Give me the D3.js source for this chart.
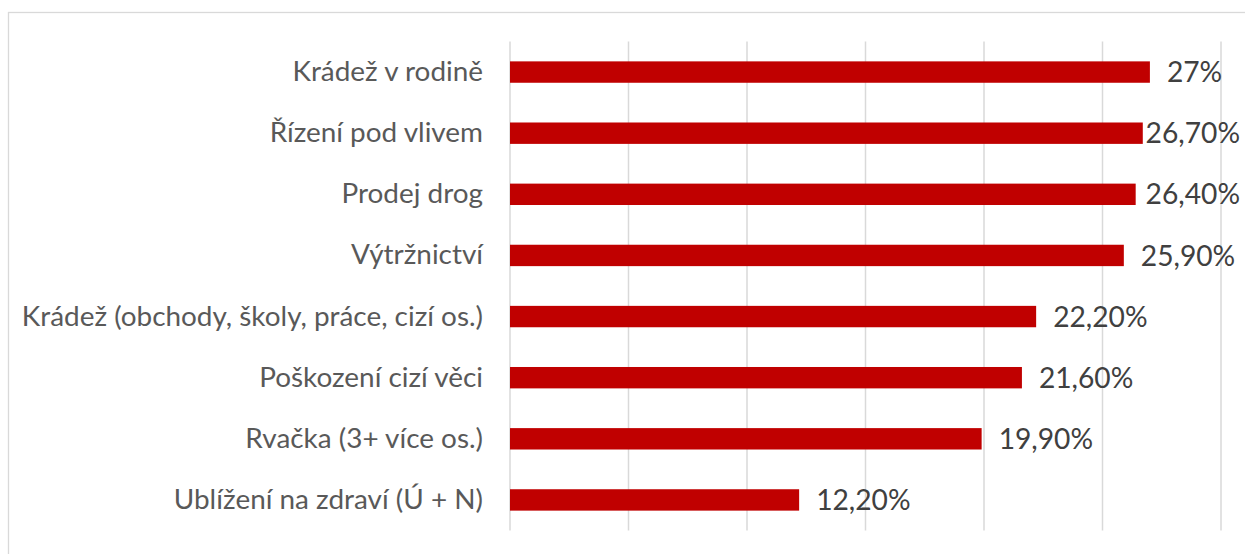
<!DOCTYPE html>
<head>
  <title>Bar Chart</title>
  <meta charset="utf-8">
  <script type="text/javascript" src="https://cdn.jsdelivr.net/npm/d3@7/dist/d3.min.js"></script>
  <style>
body{margin:0; background:#fff;}
svg text{font-family: Lato, "Open Sans", sans-serif;}
  </style>
</head>
<body>
</body>
<script>

var categories = ["Krádež v rodině", "Řízení pod vlivem", "Prodej drog", "Výtržnictví",
  "Krádež (obchody, školy, práce, cizí os.)", "Poškození cizí věci", "Rvačka (3+ více os.)", "Ublížení na zdraví (Ú + N)"]
var values = [27, 26.7, 26.4, 25.9, 22.2, 21.6, 19.9, 12.2]
var valueLabels = ["27%", "26,70%", "26,40%", "25,90%", "22,20%", "21,60%", "19,90%", "12,20%"]
var xTicks = [0, 5, 10, 15, 20, 25, 30]

var W = 1245, H = 554
var plot = {left: 510, right: 1221, top: 41.5, bottom: 530.5}

var svg = d3.select("body").append("svg").attr("width", W).attr("height", H)

// chart frame (only left and top edges show in the picture)
svg.append("rect").attr("x", 8.5).attr("y", 12.5).attr("width", W + 20).attr("height", H + 20)
  .attr("fill", "#fff").attr("stroke", "#d9d9d9").attr("stroke-width", 1.3)

var xScale = d3.scaleLinear().domain([0, 30]).range([plot.left, plot.right])
var yScale = d3.scaleBand().domain(categories).range([plot.top, plot.bottom])
  .paddingInner(0.65).paddingOuter(0.325)

var grid = svg.append("g").attr("id", "grid")
grid.selectAll("line").data(xTicks).enter().append("line")
  .attr("x1", d => xScale(d)).attr("x2", d => xScale(d))
  .attr("y1", plot.top).attr("y2", plot.bottom)
  .attr("stroke", "#d9d9d9").attr("stroke-width", 1.5)

var bars = svg.append("g").attr("id", "bars")
bars.selectAll("rect").data(values).enter().append("rect")
  .attr("x", xScale(0))
  .attr("y", (d, i) => yScale(categories[i]))
  .attr("width", d => xScale(d) - xScale(0))
  .attr("height", yScale.bandwidth())
  .attr("fill", "#c00000")

var yAxis = d3.axisLeft(yScale).tickSize(0).tickPadding(27)
var yaxis_area = svg.append("g").attr("transform", "translate(" + plot.left + ",0)").call(yAxis)
yaxis_area.select(".domain").remove()
yaxis_area.selectAll("text").attr("font-size", "27.9px").attr("fill", "#595959")
  .attr("font-family", "Lato, 'Open Sans', sans-serif")

var labels = svg.append("g").attr("id", "labels")
labels.selectAll("text").data(values).enter().append("text")
  .attr("y", (d, i) => yScale(categories[i]) + yScale.bandwidth() / 2)
  .attr("dy", ".36em")
  .attr("font-size", "28.2px").attr("fill", "#404040")
  .text((d, i) => valueLabels[i])
  .attr("x", function(d) {
    var w = this.getComputedTextLength()
    return Math.min(xScale(d) + 17, 1240 - w)
  })

</script>
